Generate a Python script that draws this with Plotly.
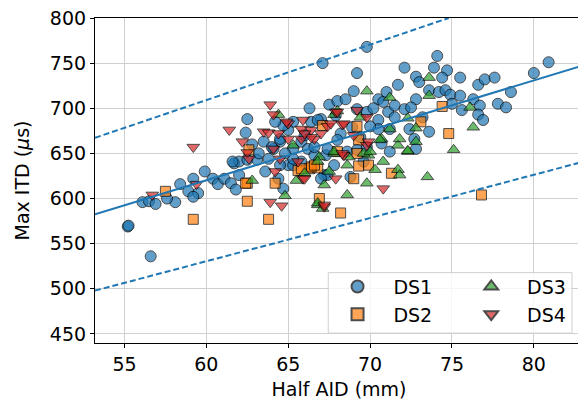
import plotly.graph_objects as go

# ---- data ----
ds1_x = [55.2, 55.25, 56.6, 56.1, 56.5, 56.9, 58.1, 58.4, 58.9, 59.2, 59.5, 59.2, 59.9, 60.4, 60.7, 61.1, 61.5, 61.8,
         61.7, 62.0, 62.5, 63.1, 63.6, 64.4, 64.7, 65.0, 65.3, 65.8, 66.4, 67.2,
         67.1, 62.5, 62.4, 66.3, 67.5, 65.3, 65.0, 66.4, 67.0, 65.8, 65.3, 64.5, 64.1, 63.5, 66.2, 66.6, 67.3, 67.4,
         69.2, 69.0, 70.5, 71.1, 68.0, 68.5, 69.2, 67.9, 69.8, 66.8, 70.5, 70.5, 68.9, 69.4, 68.2, 64.7, 64.5,
         66.6, 67.4, 68.6, 69.2, 69.8, 70.7, 71.2, 65.3, 64.5, 67.8, 69.6,
         74.1, 72.1, 73.9, 74.7, 72.8, 73.0, 74.4, 75.5, 71.7, 76.6, 77.0, 77.6, 78.6, 73.6, 74.2, 74.6, 74.9, 75.5,
         72.8, 76.3, 76.7, 77.8, 78.3, 75.6, 76.6, 76.9, 73.6, 71.5, 72.1, 72.5, 71.5, 70.8, 71.2, 72.4, 72.7,
         80.9, 80.0, 69.8, 67.0, 68.8, 72.8, 62.0, 61.6, 64.2, 64.0, 63.8,
         70.2, 71.0, 73.2, 62.8, 63.2, 64.8, 66.0, 68.0, 70.0, 75.0, 57.6]
ds1_y = [569, 570, 536, 596, 597, 594, 596, 616, 608, 622, 606, 602, 630, 622, 616, 622, 617, 610,
         639, 641, 643, 643, 630, 622, 611, 637, 637, 641, 635, 626,
         750, 688, 673, 700, 704, 685, 676, 685, 688, 663, 655, 663, 655, 663, 655, 648, 648, 626,
         739, 719, 710, 696, 708, 710, 699, 692, 696, 687, 687, 677, 679, 668, 672, 681, 666,
         657, 655, 652, 654, 657, 661, 652, 644, 637, 637, 641,
         758, 745, 745, 742, 735, 729, 734, 734, 726, 726, 732, 734, 718, 720, 718, 720, 715, 714,
         710, 710, 703, 705, 701, 698, 693, 687, 674, 703, 699, 701, 690, 707, 677, 677, 666,
         751, 739, 768, 622, 624, 655, 626, 641, 685, 657, 644,
         700, 718, 690, 660, 650, 650, 670, 665, 680, 705, 600]

ds2_x = [57.5, 59.2, 62.5, 62.5, 64.2, 63.8, 66.9, 66.3, 65.6, 66.8, 62.6, 67.1, 69.2, 69.3, 69.9, 69.3, 69.0,
         71.3, 76.8, 74.4, 73.1, 74.8, 66.4, 68.2, 68.0, 66.6, 65.8, 69.2, 62.4]
ds2_y = [608, 577, 617, 597, 617, 577, 600, 633, 631, 634, 654, 681, 680, 665, 637, 636, 622,
         628, 604, 702, 685, 672, 635, 584, 652, 637, 633, 650, 617]

ds3_x = [62.8, 64.8, 66.8, 67.1, 67.2, 66.9, 71.7, 72.3, 73.5, 70.8, 70.3, 71.7, 71.8, 69.8, 68.6, 66.8, 67.8,
         68.6, 69.9, 73.6, 69.8, 71.2, 68.0, 72.3, 72.8, 71.2, 71.8, 76.1, 76.3, 75.1, 72.8, 72.3, 70.7,
         69.6, 67.8, 69.4, 70.6, 65.3, 67.8, 68.7, 70.0, 66.8, 73.6, 64.4, 66.0, 67.5, 65.5]
ds3_y = [620, 603, 593, 589, 615, 646, 659, 652, 624, 641, 632, 632, 626, 617, 604, 595, 650,
         637, 648, 714, 719, 712, 697, 689, 678, 677, 666, 701, 679, 654, 663, 653, 666,
         650, 693, 690, 665, 659, 652, 646, 652, 641, 734, 693, 628, 630, 620]

ds4_x = [56.7, 59.2, 59.4, 61.4, 62.2, 62.5, 63.9, 64.1, 63.5, 63.8, 64.4, 65.0, 65.9, 65.8, 66.4, 67.4, 66.6,
         65.8, 65.0, 64.1, 64.5, 64.2, 65.9, 62.6, 63.9, 64.6, 67.2, 70.8, 67.9, 66.0, 67.2, 68.4, 69.8,
         68.3, 69.2, 69.8, 67.9, 67.0, 67.6, 68.4, 68.0, 66.4, 69.9, 68.3, 65.6, 64.9, 66.0, 69.0]
ds4_y = [604, 657, 616, 676, 663, 651, 704, 693, 674, 673, 672, 683, 687, 677, 676, 680, 666,
         666, 666, 655, 644, 630, 622, 644, 596, 592, 591, 611, 622, 622, 593, 648, 659,
         682, 698, 690, 696, 672, 683, 683, 696, 668, 663, 650, 641, 685, 672, 670]

# fit line and bounds (end points)
fit_x = [53.2, 83.0]
fit_y = [582.6, 747.5]
upper_x = [53.2, 74.8]
upper_y = [667.3, 800.0]
lower_x = [53.2, 83.0]
lower_y = [498.0, 640.7]

x_ticks = [55, 60, 65, 70, 75, 80]
y_ticks = [450, 500, 550, 600, 650, 700, 750, 800]

BLUE = "#1f77b4"
FONT = "DejaVu Sans"
NB = "\u00a0\u00a0\u2009"

fig = go.Figure()

series = [
    ("DS1", ds1_x, ds1_y, "circle", "#1f77b4", 11, "legend"),
    ("DS2", ds2_x, ds2_y, "square", "#ff7f0e", 10, "legend"),
    ("DS3", ds3_x, ds3_y, "triangle-up", "#2ca02c", 11, "legend2"),
    ("DS4", ds4_x, ds4_y, "triangle-down", "#d62728", 11, "legend2"),
]
for name, xs, ys, sym, col, sz, leg in series:
    fig.add_trace(go.Scatter(
        x=xs, y=ys, mode="markers", name=NB + name, legend=leg,
        marker=dict(symbol=sym, color=col, size=sz, opacity=0.7,
                    line=dict(color="black", width=1)),
    ))

fig.add_trace(go.Scatter(x=fit_x, y=fit_y, mode="lines", showlegend=False,
                         line=dict(color=BLUE, width=2)))
fig.add_trace(go.Scatter(x=upper_x, y=upper_y, mode="lines", showlegend=False,
                         line=dict(color=BLUE, width=2, dash="6px,3px")))
fig.add_trace(go.Scatter(x=lower_x, y=lower_y, mode="lines", showlegend=False,
                         line=dict(color=BLUE, width=2, dash="6px,3px")))

axis_common = dict(
    showgrid=True, gridcolor="#d0d0d0", gridwidth=1,
    showline=True, linecolor="black", linewidth=1.2, mirror=True,
    ticks="outside", ticklen=4, tickcolor="black", tickwidth=1,
    tickfont=dict(family=FONT, size=19, color="black"),
    zeroline=False, automargin=False, ticklabeloverflow="allow",
)

legend_common = dict(
    orientation="v", yanchor="top", y=0.232, xanchor="left",
    bgcolor="rgba(0,0,0,0)", borderwidth=0,
    font=dict(family=FONT, size=19, color="black"),
    itemsizing="constant", tracegroupgap=0,
)

# page has an 8px body margin: figure is 578x392 placed at (8, 8)
fig.update_layout(
    width=578, height=392,
    margin=dict(l=87, r=3, t=10, b=57),
    paper_bgcolor="white", plot_bgcolor="white",
    font=dict(family=FONT, size=19, color="black"),
    xaxis=dict(range=[53.2, 83.0], tickvals=x_ticks,
               title=dict(text="Half AID (mm)", font=dict(family=FONT, size=19)),
               **axis_common),
    yaxis=dict(range=[440, 800], tickvals=y_ticks,
               title=dict(text="Max ITD (<i>μ</i>s)", font=dict(family=FONT, size=19)),
               **axis_common),
    legend=dict(x=0.497, **legend_common),
    legend2=dict(x=0.771, **legend_common),
    shapes=[dict(type="rect", xref="paper", yref="paper", x0=0.478, x1=0.9775, y0=0.0305, y1=0.2165,
                 fillcolor="rgba(255,255,255,0.8)", line=dict(color="#d0d0d0", width=1), layer="above")],
)

fig.write_html("out.html")
